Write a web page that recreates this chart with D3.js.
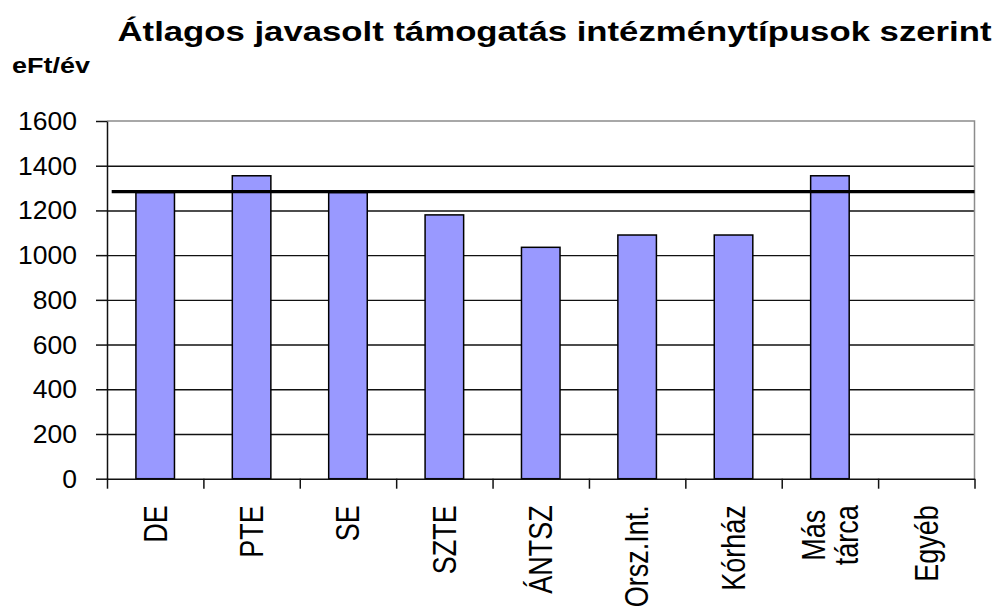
<!DOCTYPE html>
<html>
<head>
<meta charset="utf-8">
<script src="https://cdn.jsdelivr.net/npm/d3@7"></script>
<style>
  body { margin: 0; background: #fff; }
  text { font-family: "Liberation Sans", Arial, sans-serif; fill: #000; }
</style>
</head>
<body>
<svg id="chart"></svg>
<script>
// data
const categories = ['DE', 'PTE', 'SE', 'SZTE', 'ÁNTSZ', 'Orsz.Int.', 'Kórház', 'Más\ntárca', 'Egyéb'];
const values = [1280, 1355, 1280, 1180, 1035, 1090, 1090, 1355, 0];
const avgValue = 1284;
const yTicks = [0, 200, 400, 600, 800, 1000, 1200, 1400, 1600];
const titleText = 'Átlagos javasolt támogatás intézménytípusok szerint';
const unitText = 'eFt/év';

class BarChart {

  constructor(_config, _data) {
    this.config = {
      parentElement: _config.parentElement,
      containerWidth: _config.containerWidth || 1003,
      containerHeight: _config.containerHeight || 615,
      margin: _config.margin || {top: 121, right: 28.5, bottom: 136.3, left: 107}
    }
    this.data = _data;
    this.initVis();
  }

  initVis() {
    let vis = this;

    vis.width = vis.config.containerWidth - vis.config.margin.left - vis.config.margin.right;
    vis.height = vis.config.containerHeight - vis.config.margin.top - vis.config.margin.bottom;

    vis.svg = d3.select(vis.config.parentElement)
        .attr('width', vis.config.containerWidth)
        .attr('height', vis.config.containerHeight);

    vis.chart = vis.svg.append('g')
        .attr('transform', `translate(${vis.config.margin.left},${vis.config.margin.top})`);

    vis.xScale = d3.scaleBand()
        .domain(vis.data.map(d => d.cat))
        .range([0, vis.width])
        .paddingInner(0.6)
        .paddingOuter(0.3);

    // category boundaries for the tick marks
    vis.xEdge = d3.scaleLinear()
        .domain([0, vis.data.length])
        .range([0, vis.width]);

    vis.yScale = d3.scaleLinear()
        .domain([0, 1600])
        .range([vis.height, 0]);

    // titles
    vis.svg.append('text')
        .attr('x', 117.5)
        .attr('y', 40.5)
        .attr('font-size', 28.5)
        .attr('font-weight', 'bold')
        .attr('textLength', 874)
        .attr('lengthAdjust', 'spacingAndGlyphs')
        .text(titleText);

    vis.svg.append('text')
        .attr('x', 12)
        .attr('y', 72.7)
        .attr('font-size', 21.5)
        .attr('font-weight', 'bold')
        .attr('textLength', 78)
        .attr('lengthAdjust', 'spacingAndGlyphs')
        .text(unitText);
  }

  renderVis() {
    let vis = this;

    // horizontal gridlines
    vis.chart.append('g')
        .attr('class', 'grid')
        .call(d3.axisLeft(vis.yScale).tickValues(yTicks.filter(t => t > 0 && t < 1600)).tickSize(-vis.width).tickFormat(''))
        .call(g => g.select('.domain').remove())
        .call(g => g.selectAll('line').attr('stroke', '#111').attr('stroke-width', 1.4));

    // plot area border (top and right)
    vis.chart.append('path')
        .attr('d', `M0,${vis.yScale(1600)}H${vis.width}V${vis.height}`)
        .attr('fill', 'none')
        .attr('stroke', '#8c8c8c')
        .attr('stroke-width', 1.5);

    // bars
    vis.chart.append('g').selectAll('rect')
        .data(vis.data.filter(d => d.value > 0))
      .join('rect')
        .attr('x', d => vis.xScale(d.cat))
        .attr('y', d => vis.yScale(d.value))
        .attr('width', vis.xScale.bandwidth())
        .attr('height', d => vis.height - vis.yScale(d.value))
        .attr('fill', '#9999ff')
        .attr('stroke', '#000')
        .attr('stroke-width', 1.5);

    // average line
    vis.chart.append('line')
        .attr('x1', 4.7)
        .attr('x2', vis.width)
        .attr('y1', vis.yScale(avgValue))
        .attr('y2', vis.yScale(avgValue))
        .attr('stroke', '#000')
        .attr('stroke-width', 3.3);

    // y axis
    vis.chart.append('g')
        .attr('class', 'axis y-axis')
        .call(d3.axisLeft(vis.yScale).tickValues(yTicks).tickSize(11).tickPadding(19).tickSizeOuter(0).tickFormat(d3.format('d')))
        .call(g => g.selectAll('line, .domain').attr('stroke', '#111').attr('stroke-width', 1.5))
        .call(g => g.selectAll('text')
            .attr('font-size', 26.5)
            .attr('font-family', '"Liberation Sans", Arial, sans-serif')
            .attr('fill', '#000'));

    // x axis: tick marks on category boundaries
    vis.chart.append('g')
        .attr('class', 'axis x-axis')
        .attr('transform', `translate(0,${vis.height})`)
        .call(d3.axisBottom(vis.xEdge).tickValues(d3.range(vis.data.length + 1)).tickSize(10).tickSizeOuter(0).tickFormat(''))
        .call(g => g.selectAll('line, .domain').attr('stroke', '#111').attr('stroke-width', 1.5));

    // rotated category labels
    const labels = vis.chart.append('g')
        .attr('class', 'x-labels')
        .selectAll('g')
        .data(vis.data)
      .join('g');

    labels.each(function(d) {
      const g = d3.select(this);
      const lines = d.cat.split('\n');
      const cx = vis.xScale(d.cat) + vis.xScale.bandwidth() / 2;
      const t = g.append('text')
          .attr('font-size', 27)
          .attr('text-anchor', 'middle');
      lines.forEach((ln, i) => {
        t.append('tspan')
            .attr('x', 0)
            .attr('y', (i - (lines.length - 1) / 2) * 33 / 1.2)
            .attr('dy', '0.35em')
            .text(ln);
      });
      const len = d3.max(t.selectAll('tspan').nodes(), n => n.getComputedTextLength());
      g.attr('transform', `translate(${cx},${vis.height + 26.5 + len / 2}) scale(1.2,1) rotate(-90)`);
    });
  }
}

const data = categories.map((c, i) => ({cat: c, value: values[i]}));
const barChart = new BarChart({parentElement: '#chart'}, data);
barChart.renderVis();
</script>
</body>
</html>
